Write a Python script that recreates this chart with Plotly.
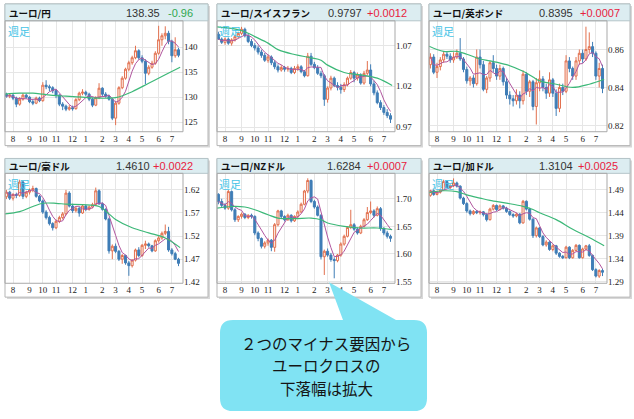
import plotly.graph_objects as go
import pandas as pd

W, H = 634, 419

# ---------------- data ----------------
weeks = list(range(-1, 52))          # weekly candles, Jul-2021 .. Jul-2022
month_pos = [1, 6, 10, 14, 19, 23, 28, 32, 36, 40, 45, 49]
month_labels = ['8', '9', '10', '11', '12', '1', '2', '3', '4', '5', '6', '7']
ma_pos = [-1.4, 3, 7, 10, 14, 17, 22, 27, 30, 32, 37, 42, 47, 51.5]

jpy_open = [130.6,130.2,130.4,129.8,128.6,129.6,130.4,130.0,129.1,128.8,129.8,129.3,132.4,132.1,131.9,131.3,130.4,128.6,128.2,127.6,127.9,127.7,129.5,130.8,131.0,130.6,129.6,128.4,129.9,131.8,130.6,130.2,129.6,125.8,128.8,131.9,133.8,135.6,136.9,137.9,139.3,137.9,137.2,134.8,136.0,136.8,138.8,141.5,142.3,142.8,141.2,138.3,139.5]
jpy_high = [130.9,130.8,130.6,130.1,130.0,130.8,130.7,130.2,129.6,130.1,130.1,133.0,133.4,132.5,132.2,131.6,130.6,129.0,128.5,128.4,128.3,129.8,131.1,131.6,131.3,130.9,129.9,130.2,132.8,132.0,131.0,130.5,129.8,129.2,132.2,134.2,135.9,137.3,138.3,140.3,139.6,138.4,137.6,136.4,137.3,139.2,144.3,142.8,144.2,143.3,141.5,142.0,139.9]
jpy_low = [129.9,129.8,129.4,128.0,128.3,129.3,129.7,128.8,128.4,128.6,129.0,129.1,131.6,131.2,130.8,129.8,128.2,127.4,127.2,127.3,127.3,127.5,129.2,130.4,130.2,129.2,128.0,128.2,129.6,130.2,129.9,129.3,125.4,124.4,128.5,131.6,133.5,135.2,136.5,137.6,137.5,136.8,132.6,134.4,135.7,136.5,138.5,140.3,141.6,140.6,137.0,137.9,138.0]
jpy_close = [130.2,130.4,129.8,128.6,129.6,130.4,130.0,129.1,128.8,129.8,129.3,132.4,132.1,131.9,131.3,130.4,128.6,128.2,127.6,127.9,127.7,129.5,130.8,131.0,130.6,129.6,128.4,129.9,131.8,130.6,130.2,129.6,125.8,128.8,131.9,133.8,135.6,136.9,137.9,139.3,137.9,137.2,134.8,136.0,136.8,138.8,141.5,142.3,142.8,141.2,138.3,139.5,138.4]
jpy_ma26 = [130.6,130.8,130.8,130.6,130.3,130.2,130.0,129.8,129.8,129.9,131.1,132.8,134.5,136.0]

chf_open = [1.0840,1.0780,1.0740,1.0780,1.0730,1.0770,1.0810,1.0850,1.0900,1.0820,1.0750,1.0700,1.0670,1.0620,1.0580,1.0520,1.0560,1.0490,1.0440,1.0400,1.0430,1.0410,1.0420,1.0370,1.0420,1.0440,1.0380,1.0330,1.0570,1.0470,1.0430,1.0360,1.0330,1.0040,1.0180,1.0300,1.0210,1.0190,1.0160,1.0220,1.0300,1.0370,1.0300,1.0340,1.0240,1.0360,1.0400,1.0230,1.0120,1.0000,0.9940,0.9880,0.9840]
chf_high = [1.0870,1.0800,1.0800,1.0800,1.0790,1.0830,1.0870,1.0930,1.0920,1.0850,1.0780,1.0730,1.0700,1.0650,1.0610,1.0590,1.0580,1.0520,1.0470,1.0460,1.0450,1.0450,1.0440,1.0450,1.0470,1.0460,1.0400,1.0610,1.0610,1.0500,1.0460,1.0390,1.0350,1.0200,1.0330,1.0320,1.0250,1.0230,1.0250,1.0320,1.0400,1.0390,1.0370,1.0360,1.0390,1.0510,1.0470,1.0270,1.0150,1.0030,0.9970,0.9920,0.9870]
chf_low = [1.0770,1.0720,1.0710,1.0710,1.0700,1.0750,1.0790,1.0830,1.0800,1.0730,1.0680,1.0640,1.0590,1.0550,1.0500,1.0490,1.0460,1.0410,1.0370,1.0380,1.0380,1.0380,1.0350,1.0350,1.0390,1.0360,1.0310,1.0320,1.0450,1.0410,1.0340,1.0300,0.9960,1.0000,1.0150,1.0190,1.0150,1.0110,1.0130,1.0200,1.0280,1.0250,1.0270,1.0220,1.0220,1.0340,1.0200,1.0090,0.9980,0.9910,0.9850,0.9810,0.9750]
chf_close = [1.0780,1.0740,1.0780,1.0730,1.0770,1.0810,1.0850,1.0900,1.0820,1.0750,1.0700,1.0670,1.0620,1.0580,1.0520,1.0560,1.0490,1.0440,1.0400,1.0430,1.0410,1.0420,1.0370,1.0420,1.0440,1.0380,1.0330,1.0570,1.0470,1.0430,1.0360,1.0330,1.0040,1.0180,1.0300,1.0210,1.0190,1.0160,1.0220,1.0300,1.0370,1.0300,1.0340,1.0240,1.0360,1.0400,1.0230,1.0120,1.0000,0.9940,0.9880,0.9840,0.9797]
chf_ma26 = [1.093,1.091,1.087,1.081,1.073,1.065,1.059,1.055,1.052,1.046,1.037,1.034,1.030,1.021]

gbp_open = [0.8520,0.8560,0.8480,0.8510,0.8545,0.8575,0.8565,0.8545,0.8560,0.8580,0.8550,0.8495,0.8435,0.8450,0.8420,0.8560,0.8520,0.8390,0.8450,0.8530,0.8500,0.8460,0.8500,0.8430,0.8360,0.8340,0.8330,0.8360,0.8330,0.8470,0.8380,0.8430,0.8300,0.8425,0.8445,0.8400,0.8370,0.8440,0.8370,0.8290,0.8400,0.8380,0.8540,0.8500,0.8460,0.8540,0.8580,0.8550,0.8600,0.8615,0.8580,0.8460,0.8500]
gbp_high = [0.8580,0.8575,0.8530,0.8560,0.8590,0.8590,0.8580,0.8585,0.8600,0.8660,0.8560,0.8510,0.8460,0.8465,0.8600,0.8600,0.8540,0.8460,0.8540,0.8570,0.8520,0.8520,0.8510,0.8450,0.8380,0.8360,0.8390,0.8380,0.8490,0.8480,0.8440,0.8440,0.8450,0.8490,0.8460,0.8420,0.8480,0.8450,0.8390,0.8420,0.8420,0.8570,0.8560,0.8510,0.8560,0.8600,0.8600,0.8720,0.8690,0.8640,0.8590,0.8530,0.8520]
gbp_low = [0.8500,0.8470,0.8450,0.8490,0.8530,0.8550,0.8530,0.8530,0.8550,0.8540,0.8480,0.8420,0.8410,0.8400,0.8410,0.8500,0.8380,0.8370,0.8430,0.8480,0.8440,0.8440,0.8410,0.8340,0.8310,0.8300,0.8310,0.8290,0.8310,0.8360,0.8350,0.8280,0.8205,0.8380,0.8380,0.8340,0.8350,0.8350,0.8250,0.8270,0.8360,0.8370,0.8480,0.8440,0.8440,0.8520,0.8530,0.8540,0.8580,0.8560,0.8440,0.8400,0.8370]
gbp_close = [0.8560,0.8480,0.8510,0.8545,0.8575,0.8565,0.8545,0.8560,0.8580,0.8550,0.8495,0.8435,0.8450,0.8420,0.8560,0.8520,0.8390,0.8450,0.8530,0.8500,0.8460,0.8500,0.8430,0.8360,0.8340,0.8330,0.8360,0.8330,0.8470,0.8380,0.8430,0.8300,0.8425,0.8445,0.8400,0.8370,0.8440,0.8370,0.8290,0.8400,0.8380,0.8540,0.8500,0.8460,0.8540,0.8580,0.8550,0.8600,0.8615,0.8580,0.8460,0.8500,0.8395]
gbp_ma26 = [0.8617,0.859,0.859,0.8575,0.855,0.854,0.852,0.8485,0.8455,0.8435,0.8417,0.840,0.8417,0.8443]

aud_open = [1.6050,1.6150,1.6020,1.6100,1.6080,1.6370,1.6060,1.6150,1.6200,1.6230,1.6060,1.5960,1.5720,1.5600,1.5470,1.5380,1.5520,1.5600,1.5680,1.6130,1.5850,1.5750,1.5800,1.5700,1.5850,1.5780,1.5830,1.5880,1.6180,1.5900,1.5780,1.5570,1.4880,1.4980,1.4870,1.4700,1.4780,1.4620,1.4560,1.4680,1.4900,1.4780,1.5000,1.5030,1.4990,1.4880,1.5100,1.5160,1.5260,1.5300,1.4900,1.4820,1.4700]
aud_high = [1.6200,1.6180,1.6130,1.6140,1.6420,1.6400,1.6180,1.6230,1.6290,1.6250,1.6090,1.5990,1.5760,1.5640,1.5500,1.5560,1.5640,1.5720,1.6200,1.6170,1.5900,1.5840,1.5830,1.5880,1.5880,1.5860,1.5920,1.6250,1.6210,1.5930,1.5800,1.5600,1.5020,1.5040,1.4900,1.4810,1.4800,1.4660,1.4700,1.4930,1.4960,1.5030,1.5100,1.5060,1.5010,1.5130,1.5200,1.5300,1.5450,1.5400,1.4940,1.4860,1.4730]
aud_low = [1.6000,1.5980,1.5970,1.6020,1.6050,1.6000,1.6020,1.6100,1.6150,1.6030,1.5930,1.5680,1.5560,1.5430,1.5320,1.5350,1.5480,1.5560,1.5650,1.5820,1.5700,1.5710,1.5620,1.5680,1.5740,1.5750,1.5800,1.5860,1.5870,1.5750,1.5540,1.4820,1.4700,1.4830,1.4660,1.4600,1.4580,1.4340,1.4520,1.4650,1.4740,1.4750,1.4920,1.4950,1.4850,1.4860,1.5060,1.5120,1.5220,1.4860,1.4780,1.4680,1.4550]
aud_close = [1.6150,1.6020,1.6100,1.6080,1.6370,1.6060,1.6150,1.6200,1.6230,1.6060,1.5960,1.5720,1.5600,1.5470,1.5380,1.5520,1.5600,1.5680,1.6130,1.5850,1.5750,1.5800,1.5700,1.5850,1.5780,1.5830,1.5880,1.6180,1.5900,1.5780,1.5570,1.4880,1.4980,1.4870,1.4700,1.4780,1.4620,1.4560,1.4680,1.4900,1.4780,1.5000,1.5030,1.4990,1.4880,1.5100,1.5160,1.5260,1.5300,1.4900,1.4820,1.4700,1.4610]
aud_ma26 = [1.568,1.573,1.584,1.591,1.591,1.589,1.588,1.584,1.568,1.556,1.538,1.527,1.516,1.495]

nzd_open = [1.7080,1.6950,1.6880,1.6830,1.7130,1.6800,1.6620,1.6680,1.6720,1.6660,1.6700,1.6680,1.6380,1.6280,1.6140,1.6200,1.6250,1.6120,1.6530,1.6780,1.6680,1.6620,1.6700,1.6600,1.6680,1.6760,1.6900,1.7140,1.7330,1.6950,1.6850,1.6700,1.5950,1.6050,1.5980,1.5900,1.5880,1.5980,1.6180,1.6320,1.6480,1.6530,1.6450,1.6380,1.6500,1.6620,1.6750,1.6780,1.6700,1.6820,1.6460,1.6380,1.6320]
nzd_high = [1.7100,1.7000,1.6920,1.7160,1.7150,1.6830,1.6700,1.6750,1.6740,1.6720,1.6730,1.6700,1.6410,1.6300,1.6230,1.6280,1.6270,1.6560,1.6800,1.6800,1.6700,1.6730,1.6720,1.6700,1.6790,1.6930,1.7160,1.7370,1.7350,1.6980,1.6880,1.6720,1.6080,1.6100,1.6020,1.5940,1.6000,1.6210,1.6350,1.6500,1.6800,1.6560,1.6480,1.6530,1.6650,1.6850,1.6950,1.6810,1.6860,1.6850,1.6490,1.6420,1.6350]
nzd_low = [1.6900,1.6840,1.6800,1.6800,1.6770,1.6580,1.6580,1.6640,1.6630,1.6630,1.6640,1.6340,1.6230,1.6100,1.6100,1.6150,1.6050,1.6040,1.6500,1.6650,1.6590,1.6600,1.6570,1.6580,1.6650,1.6740,1.6880,1.7100,1.6920,1.6820,1.6680,1.5900,1.5620,1.5950,1.5860,1.5560,1.5850,1.5950,1.6150,1.6300,1.6450,1.6420,1.6350,1.6360,1.6480,1.6600,1.6720,1.6660,1.6680,1.6420,1.6340,1.6280,1.6220]
nzd_close = [1.6950,1.6880,1.6830,1.7130,1.6800,1.6620,1.6680,1.6720,1.6660,1.6700,1.6680,1.6380,1.6280,1.6140,1.6200,1.6250,1.6120,1.6530,1.6780,1.6680,1.6620,1.6700,1.6600,1.6680,1.6760,1.6900,1.7140,1.7330,1.6950,1.6850,1.6700,1.5950,1.6050,1.5980,1.5900,1.5880,1.5980,1.6180,1.6320,1.6480,1.6530,1.6450,1.6380,1.6500,1.6620,1.6750,1.6780,1.6700,1.6820,1.6460,1.6380,1.6320,1.6284]
nzd_ma26 = [1.683,1.686,1.685,1.680,1.671,1.665,1.664,1.665,1.662,1.656,1.650,1.647,1.647,1.644]

cad_open = [1.4780,1.4880,1.4800,1.4850,1.4900,1.5080,1.4950,1.4990,1.5050,1.4980,1.4720,1.4600,1.4440,1.4380,1.4430,1.4400,1.4420,1.4360,1.4250,1.4480,1.4560,1.4470,1.4550,1.4500,1.4430,1.4360,1.4330,1.4370,1.4180,1.4650,1.4480,1.4260,1.3900,1.4070,1.3880,1.3700,1.3760,1.3600,1.3680,1.3520,1.3450,1.3420,1.3650,1.3420,1.3580,1.3690,1.3420,1.3610,1.3680,1.3470,1.3160,1.3020,1.3140]
cad_high = [1.4900,1.4910,1.4880,1.4930,1.5120,1.5100,1.5020,1.5150,1.5080,1.5000,1.4750,1.4630,1.4470,1.4460,1.4460,1.4450,1.4440,1.4390,1.4510,1.4590,1.4580,1.4580,1.4570,1.4530,1.4450,1.4390,1.4400,1.4390,1.4680,1.4670,1.4510,1.4280,1.4100,1.4090,1.3910,1.3800,1.3780,1.3710,1.3700,1.3540,1.3480,1.3680,1.3670,1.3610,1.3720,1.3710,1.3640,1.3700,1.3720,1.3490,1.3190,1.3170,1.3180]
cad_low = [1.4750,1.4770,1.4780,1.4820,1.4880,1.4930,1.4920,1.4960,1.4950,1.4690,1.4570,1.4400,1.4340,1.4350,1.4370,1.4360,1.4320,1.4210,1.4230,1.4450,1.4440,1.4450,1.4470,1.4400,1.4330,1.4290,1.4300,1.4150,1.4160,1.4450,1.4230,1.3850,1.3860,1.3850,1.3670,1.3660,1.3570,1.3560,1.3480,1.3420,1.3390,1.3400,1.3390,1.3400,1.3560,1.3400,1.3400,1.3580,1.3440,1.3130,1.2990,1.2980,1.3020]
cad_close = [1.4880,1.4800,1.4850,1.4900,1.5080,1.4950,1.4990,1.5050,1.4980,1.4720,1.4600,1.4440,1.4380,1.4430,1.4400,1.4420,1.4360,1.4250,1.4480,1.4560,1.4470,1.4550,1.4500,1.4430,1.4360,1.4330,1.4370,1.4180,1.4650,1.4480,1.4260,1.3900,1.4070,1.3880,1.3700,1.3760,1.3600,1.3680,1.3520,1.3450,1.3420,1.3650,1.3420,1.3580,1.3690,1.3420,1.3610,1.3680,1.3470,1.3160,1.3020,1.3140,1.3104]
cad_ma26 = [1.484,1.488,1.486,1.479,1.472,1.467,1.461,1.454,1.447,1.440,1.425,1.404,1.386,1.368]

titles = ['ユーロ/円', 'ユーロ/スイスフラン', 'ユーロ/英ポンド', 'ユーロ/豪ドル', 'ユーロ/NZドル', 'ユーロ/加ドル']
prices = ['138.35', '0.9797', '0.8395', '1.4610', '1.6284', '1.3104']
changes = ['-0.96', '+0.0012', '+0.0007', '+0.0022', '+0.0007', '+0.0025']
y_ticks = [[125, 130, 135, 140], [0.97, 1.02, 1.07], [0.82, 0.84, 0.86],
           [1.42, 1.47, 1.52, 1.57, 1.62], [1.55, 1.60, 1.65, 1.70], [1.29, 1.34, 1.39, 1.44, 1.49]]
y_ranges = [[123.08, 145.3], [0.9643, 1.1004], [0.8167, 0.8751],
            [1.4179, 1.6558], [1.547, 1.746], [1.2863, 1.526]]
callout_lines = ['２つのマイナス要因から', 'ユーロクロスの', '下落幅は拡大']

series = [
    (jpy_open, jpy_high, jpy_low, jpy_close, jpy_ma26),
    (chf_open, chf_high, chf_low, chf_close, chf_ma26),
    (gbp_open, gbp_high, gbp_low, gbp_close, gbp_ma26),
    (aud_open, aud_high, aud_low, aud_close, aud_ma26),
    (nzd_open, nzd_high, nzd_low, nzd_close, nzd_ma26),
    (cad_open, cad_high, cad_low, cad_close, cad_ma26),
]

# ---------------- layout geometry (pixels) ----------------
col_left = [5, 217, 429]
plot_right = [183, 395, 607]
outer_right = [208, 421, 630]
row_top = [4, 160]
head_bot = [21, 175]
plot_bot = [133, 286]
outer_bot = [147, 300]
price_right = [[162, 364, 575], [152, 363, 575]]
chg_right = [[195, 409, 622], [195, 409, 620]]


def fx(x):
    return x / W


def fy(y):
    return 1 - y / H


UP = '#e2704e'
DOWN = '#3f7db6'
PURPLE = '#b0559e'
GREEN = '#3cb878'
GRID = '#e6e6e6'
FRAME = '#a9a9a9'
TICKFONT = dict(family='Liberation Serif, DejaVu Serif, serif', size=9, color='#222222')

fig = go.Figure()
shapes = []
annotations = []
layout_axes = {}

for i, (o, h, l, c, ma) in enumerate(series):
    r, k = divmod(i, 3)
    n = i + 1
    xa = 'x' if n == 1 else f'x{n}'
    ya = 'y' if n == 1 else f'y{n}'
    fig.add_trace(go.Candlestick(
        x=weeks, open=o, high=h, low=l, close=c, xaxis=xa, yaxis=ya,
        increasing=dict(line=dict(color=UP, width=1), fillcolor='#fff3ef'),
        decreasing=dict(line=dict(color=DOWN, width=1), fillcolor=DOWN),
        whiskerwidth=0, showlegend=False, hoverinfo='skip'))
    ma5 = pd.Series(c).rolling(5, min_periods=1).mean().tolist()
    fig.add_trace(go.Scatter(x=weeks, y=ma5, mode='lines', xaxis=xa, yaxis=ya,
                             line=dict(color=PURPLE, width=1), showlegend=False, hoverinfo='skip'))
    fig.add_trace(go.Scatter(x=ma_pos, y=ma, mode='lines', xaxis=xa, yaxis=ya,
                             line=dict(color=GREEN, width=1.2, shape='spline'),
                             showlegend=False, hoverinfo='skip'))

    xkey = 'xaxis' if n == 1 else f'xaxis{n}'
    ykey = 'yaxis' if n == 1 else f'yaxis{n}'
    fmt = '{:d}' if i == 0 else '{:.2f}'
    layout_axes[xkey] = dict(
        domain=[fx(col_left[k]), fx(plot_right[k])], anchor=ya,
        range=[-1.42, 52.36], tickmode='array', tickvals=month_pos, ticktext=month_labels,
        showgrid=True, gridcolor=GRID, gridwidth=1, zeroline=False, showline=False,
        ticks='', tickfont=TICKFONT, rangeslider=dict(visible=False), fixedrange=True)
    layout_axes[ykey] = dict(
        domain=[fy(plot_bot[r]), fy(head_bot[r])], anchor=xa, side='right',
        range=y_ranges[i], tickmode='array', tickvals=y_ticks[i],
        ticktext=[fmt.format(v) for v in y_ticks[i]],
        showgrid=True, gridcolor=GRID, gridwidth=1, zeroline=False, showline=False,
        ticks='', tickfont=TICKFONT, fixedrange=True)

    # panel shadow, frame, header, plot frame
    shapes.append(dict(type='rect', xref='paper', yref='paper', layer='below',
                       x0=fx(col_left[k] + 2), x1=fx(outer_right[k] + 2),
                       y0=fy(row_top[r] + 2), y1=fy(outer_bot[r] + 2),
                       fillcolor='#d8d8d8', line=dict(width=0)))
    shapes.append(dict(type='rect', xref='paper', yref='paper', layer='below',
                       x0=fx(col_left[k]), x1=fx(outer_right[k]),
                       y0=fy(row_top[r]), y1=fy(outer_bot[r]),
                       fillcolor='white', line=dict(color='#b5b5b5', width=1)))
    shapes.append(dict(type='rect', xref='paper', yref='paper', layer='above',
                       x0=fx(col_left[k]), x1=fx(outer_right[k]),
                       y0=fy(row_top[r]), y1=fy(head_bot[r]),
                       fillcolor='#dcedf1', line=dict(color='#b5c5c9', width=1)))
    shapes.append(dict(type='rect', xref='paper', yref='paper', layer='above',
                       x0=fx(col_left[k]), x1=fx(plot_right[k]),
                       y0=fy(plot_bot[r]), y1=fy(head_bot[r]),
                       fillcolor='rgba(0,0,0,0)', line=dict(color=FRAME, width=1)))

    ty = fy((row_top[r] + head_bot[r]) / 2 + 0.5)
    annotations.append(dict(xref='paper', yref='paper', x=fx(col_left[k] + 2), y=ty,
                            xanchor='left', yanchor='middle', showarrow=False,
                            text='<b>' + titles[i] + '</b>',
                            font=dict(family='Noto Sans CJK JP', size=9.5, color='#111111')))
    annotations.append(dict(xref='paper', yref='paper', x=fx(price_right[r][k]), y=ty,
                            xanchor='right', yanchor='middle', showarrow=False, text=prices[i],
                            font=dict(family='Liberation Sans Narrow, Liberation Sans, sans-serif',
                                      size=11, color='#333333')))
    chg_col = '#2fa84f' if changes[i].startswith('-') else '#e8213d'
    annotations.append(dict(xref='paper', yref='paper', x=fx(chg_right[r][k]), y=ty,
                            xanchor='right', yanchor='middle', showarrow=False, text=changes[i],
                            font=dict(family='Liberation Sans Narrow, Liberation Sans, sans-serif',
                                      size=11, color=chg_col)))
    annotations.append(dict(xref='paper', yref='paper', x=fx(col_left[k] + 0.5),
                            y=fy(head_bot[r] + 0.5), xanchor='left', yanchor='top',
                            showarrow=False, text='週足',
                            font=dict(family='Noto Sans CJK JP', size=11, color='#45c3e6')))

# callout bubble
bx0, bx1, by0, by1, rad = 220, 427, 323, 415, 13
tip = (329, 285)
b_l, b_r = 343, 396
pts = [
    f'M {fx(bx0 + rad)} {fy(by0)}',
    f'L {fx(b_l)} {fy(by0)}', f'L {fx(tip[0])} {fy(tip[1])}', f'L {fx(b_r)} {fy(by0)}',
    f'L {fx(bx1 - rad)} {fy(by0)}', f'Q {fx(bx1)} {fy(by0)} {fx(bx1)} {fy(by0 + rad)}',
    f'L {fx(bx1)} {fy(by1 - rad)}', f'Q {fx(bx1)} {fy(by1)} {fx(bx1 - rad)} {fy(by1)}',
    f'L {fx(bx0 + rad)} {fy(by1)}', f'Q {fx(bx0)} {fy(by1)} {fx(bx0)} {fy(by1 - rad)}',
    f'L {fx(bx0)} {fy(by0 + rad)}', f'Q {fx(bx0)} {fy(by0)} {fx(bx0 + rad)} {fy(by0)}', 'Z']
shapes.append(dict(type='path', xref='paper', yref='paper', layer='above',
                   path=' '.join(pts), fillcolor='#80e3f3', line=dict(width=0)))
for txt, yy in zip(callout_lines, [346, 369, 392]):
    annotations.append(dict(xref='paper', yref='paper', x=fx(326), y=fy(yy),
                            xanchor='center', yanchor='middle', showarrow=False, text=txt,
                            borderpad=0,
                            font=dict(family='Noto Sans CJK JP', size=15.5, color='#151515')))

fig.update_layout(
    width=W, height=H, margin=dict(l=0, r=0, t=0, b=0),
    paper_bgcolor='white', plot_bgcolor='rgba(0,0,0,0)',
    shapes=shapes, annotations=annotations, boxgap=0.12,
    showlegend=False, **layout_axes)

fig.write_html('out.html', config={'displayModeBar': False},
               post_script="document.body.style.margin='0';document.body.style.overflow='hidden';")
